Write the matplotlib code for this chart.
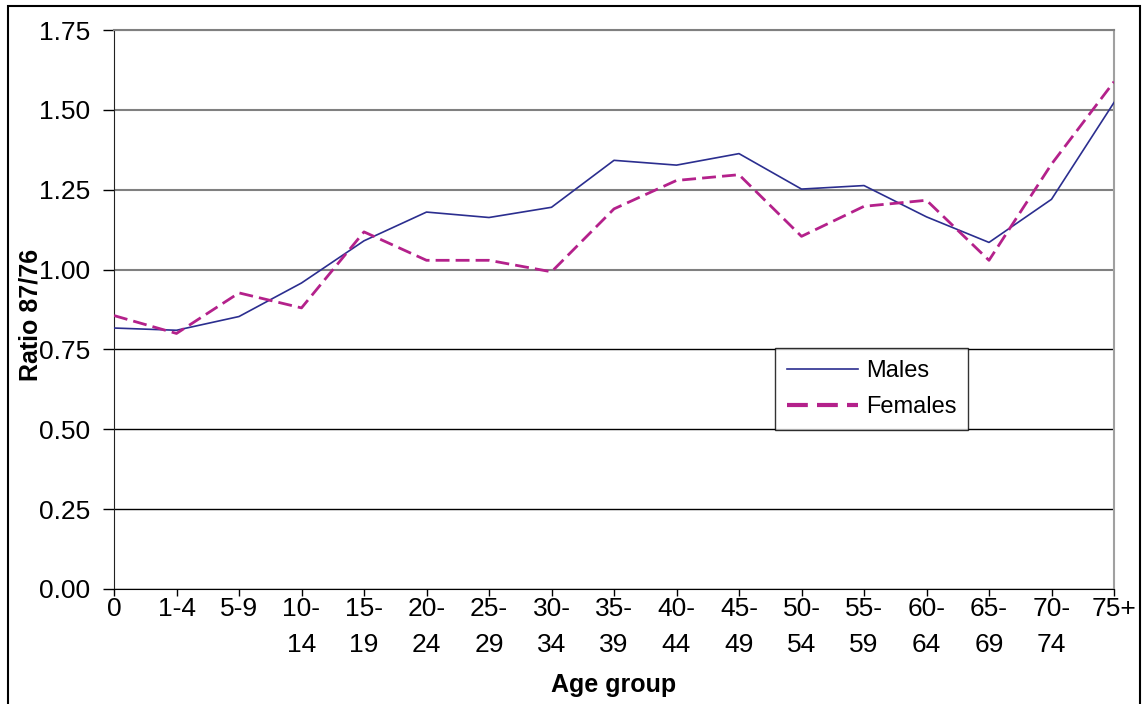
import numpy as np
import matplotlib
matplotlib.use("Agg")
import matplotlib.pyplot as plt
from matplotlib.patches import Rectangle

plt.rcParams['font.family'] = ['Liberation Sans', 'DejaVu Sans']

# data
age_groups = ["0", "1-4", "5-9", "10-\n14", "15-\n19", "20-\n24", "25-\n29", "30-\n34",
              "35-\n39", "40-\n44", "45-\n49", "50-\n54", "55-\n59", "60-\n64", "65-\n69",
              "70-\n74", "75+"]
males = [0.817, 0.810, 0.853, 0.958, 1.090, 1.180, 1.163, 1.195, 1.342, 1.327, 1.363,
         1.252, 1.263, 1.165, 1.085, 1.220, 1.523]
females = [0.856, 0.800, 0.927, 0.880, 1.118, 1.029, 1.029, 0.993, 1.190, 1.279, 1.297,
           1.104, 1.198, 1.217, 1.029, 1.330, 1.588]
y_ticks = [0.00, 0.25, 0.50, 0.75, 1.00, 1.25, 1.50, 1.75]

fig = plt.figure(figsize=(11.45, 7.04), dpi=100)
ax = fig.add_axes([114/1145, 1 - 589/704, 1000/1145, 559/704])

x = np.arange(len(age_groups))
ax.plot(x, males, color="#2B2E8F", lw=1.2, label="Males", zorder=3)
ax.plot(x, females, color="#B4218B", lw=2.0, dashes=(5, 2.2), label="Females", zorder=3)

ax.set_xlim(0, len(age_groups) - 1)
ax.set_ylim(0, 1.75)
ax.set_yticks(y_ticks)
ax.set_yticklabels(["%.2f" % v for v in y_ticks])
ax.set_xticks(x)
ax.set_xticklabels(age_groups, linespacing=1.6, va="top")

ax.tick_params(axis="y", direction="out", length=8, width=1, pad=9, labelsize=19)
ax.tick_params(axis="x", direction="out", length=5, width=1, pad=1, labelsize=19)

# gridlines: grey above 1.0, black below
ax.grid(axis="y", zorder=1)
for v, gl in zip(y_ticks, ax.get_ygridlines()):
    if v >= 1.0:
        gl.set_color("#808080")
        gl.set_linewidth(1.5)
    else:
        gl.set_color("black")
        gl.set_linewidth(1.0)

ax.spines["left"].set_color("#222222")
ax.spines["bottom"].set_color("black")
ax.spines["top"].set_color("#808080")
ax.spines["top"].set_linewidth(1.5)
ax.spines["right"].set_color("#A0A0A0")
ax.spines["right"].set_linewidth(1.5)

ax.set_xlabel("Age group", fontsize=18, fontweight="bold")
ax.set_ylabel("Ratio 87/76", fontsize=18, fontweight="bold")
ax.xaxis.set_label_coords(0.5, -0.172)
ax.yaxis.set_label_coords(-0.084, 0.49)
ax.xaxis.label.set_va("center")
ax.yaxis.label.set_va("center")

leg = ax.legend(loc="upper left", bbox_to_anchor=(0.661, 0.431), fontsize=17,
                frameon=True, fancybox=False, handlelength=3.0, handletextpad=0.35,
                borderpad=0.5, labelspacing=0.6, borderaxespad=0)
leg.get_frame().set_edgecolor("black")
leg.get_frame().set_linewidth(1.0)
leg.get_lines()[1].set_linewidth(3.0)

# outer chart border
fig.patches.append(Rectangle((8/1145, -0.02), 1132/1145, 1.02 - 6/704,
                             transform=fig.transFigure, fill=False,
                             edgecolor="black", lw=1.5))

fig.savefig("out.png", dpi=100)
